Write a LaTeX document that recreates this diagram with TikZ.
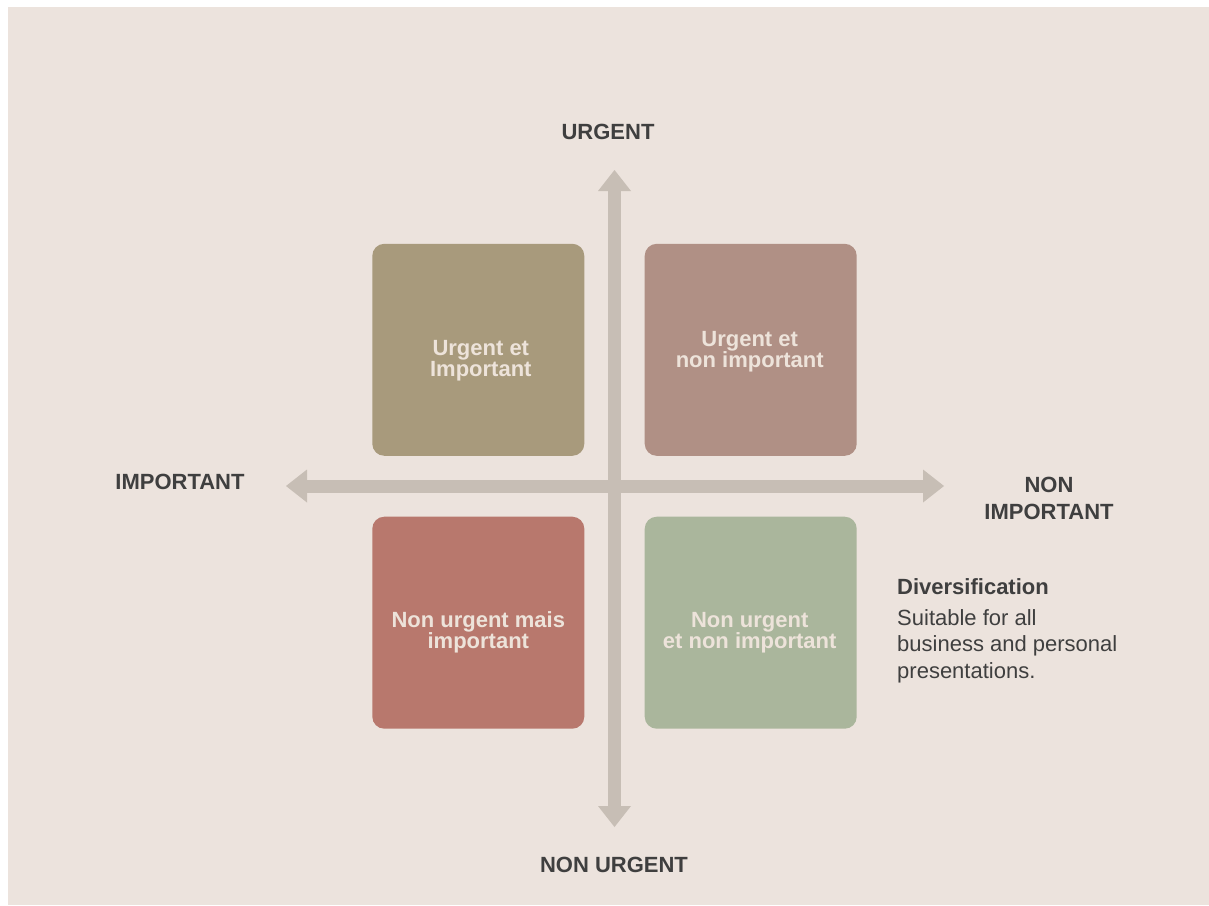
\documentclass[tikz,border=0pt]{standalone}
\usepackage{fontspec}
\setmainfont{Liberation Sans}
\usetikzlibrary{arrows.meta,positioning}

\definecolor{paper}{HTML}{ECE3DD}
\definecolor{axisgray}{HTML}{C7BEB5}
\definecolor{quadolive}{HTML}{A89A7C}
\definecolor{quadmauve}{HTML}{B09085}
\definecolor{quadbrick}{HTML}{B8786D}
\definecolor{quadsage}{HTML}{AAB69C}
\definecolor{inktext}{HTML}{3F3F3F}
\definecolor{lighttext}{HTML}{EDE3DA}

\tikzset{
  quad/.style={rounded corners=12pt, minimum size=212pt, inner sep=0pt},
  quadlabel/.style={text=lighttext, font=\fontsize{22}{21}\selectfont\bfseries, align=center, anchor=base},
  axislabel/.style={text=inktext, font=\fontsize{22}{27}\selectfont\bfseries, align=center, anchor=base},
  axis/.style={axisgray, line width=13pt,
    {Triangle[width=33pt,length=21pt,line width=0pt]}-{Triangle[width=33pt,length=21pt,line width=0pt]}},
}

\begin{document}
\begin{tikzpicture}[x=1pt, y=-1pt]
  \useasboundingbox (0,0) rectangle (1209,905);
  \fill[white] (0,0) rectangle (1209,905);
  \fill[paper] (8,7) rectangle (1209,905);

  % axes
  \coordinate (O) at (614.5,486);
  \coordinate (top) at (614.5,170);
  \coordinate (bot) at (614.5,827);
  \coordinate (lft) at (286,486);
  \coordinate (rgt) at (944,486);
  \draw[axis] (bot) -- (top);
  \draw[axis] (lft) -- (rgt);

  % the four quadrants
  \node[quad, fill=quadolive, above left=30pt and 30pt of O] (ui) {};
  \node[quad, fill=quadmauve, above right=30pt and 30pt of O] (un) {};
  \node[quad, fill=quadbrick, below left=30.5pt and 30pt of O] (nui) {};
  \node[quad, fill=quadsage, below right=30.5pt and 30pt of O] (nun) {};

  % base is the last line here
  \node[quadlabel, xshift=2.5pt, yshift=-27pt] (uilbl) at (ui.center) {Urgent et\\Important};
  \node[quadlabel, xshift=-1pt, yshift=-18pt] (unlbl) at (un.center) {Urgent et\\non important};
  \node[quadlabel, yshift=-25.5pt] (nuilbl) at (nui.center) {Non urgent mais\\important};
  \node[quadlabel, xshift=-1pt, yshift=-26pt] (nunlbl) at (nun.center) {Non urgent\\et non important};

  % axis names
  \node[axislabel] (urg) at (608,139) {URGENT};
  \node[axislabel] (nurg) at (614,872) {NON URGENT};
  \node[axislabel] (imp) at (180,489) {IMPORTANT};
  \node[axislabel] (nimp) at (1049,519) {NON\\IMPORTANT};

  % side note
  \node[text=inktext, font=\fontsize{22}{26}\bfseries\selectfont, anchor=base west, inner sep=0pt] (div) at (897,594) {Diversification};
  \node[text=inktext, font=\fontsize{22}{26.5}\selectfont, align=left, anchor=base west, inner sep=0pt] (divtxt) at (897,678)
    {Suitable for all\\business and personal\\presentations.};
\end{tikzpicture}
\end{document}
